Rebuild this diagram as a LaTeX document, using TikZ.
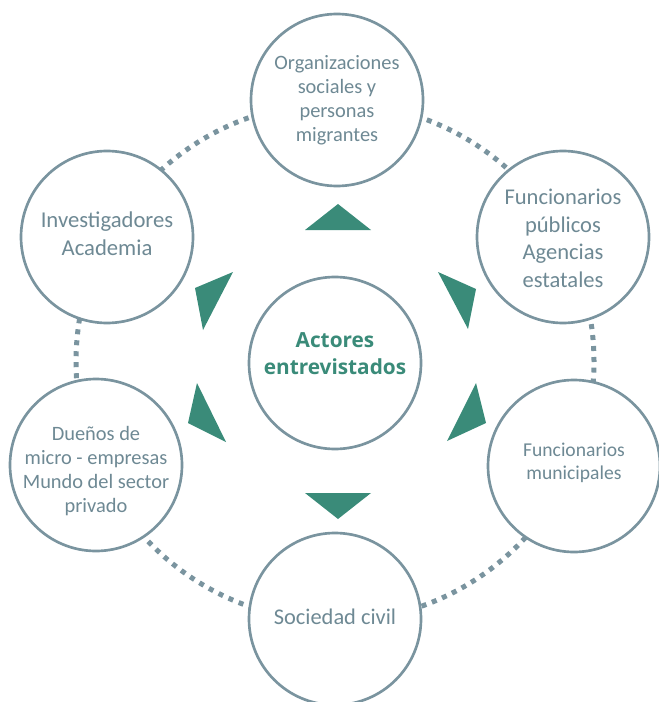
\documentclass[tikz,border=0pt]{standalone}
\usepackage{fontspec}
\setmainfont{Carlito}
\newfontfamily\hubfont{Open Sans}
\definecolor{ringgray}{HTML}{7A949F}
\definecolor{txtgray}{HTML}{6E8994}
\definecolor{actorgreen}{HTML}{3A8B79}

\begin{document}
\begin{tikzpicture}[x=0.75pt,y=-0.75pt,
  actor/.style={circle,draw=ringgray,line width=2pt,fill=white,minimum size=129pt,
    inner sep=0pt},
  txt/.style={align=center,text=txtgray,inner sep=0pt},
  ring/.style={draw=ringgray,line width=3.75pt,dash pattern=on 3.75pt off 4.5pt},
  pointer/.style={fill=actorgreen}]
\useasboundingbox (0,0) rectangle (659,702);

% dotted ring behind the circles
\draw[ring] (335,362) circle (194.25pt);

\node[actor,label={[txt,font=\fontsize{15.3}{18}\selectfont]center:
  Organizaciones\\sociales y\\personas\\migrantes}] (org) at (337,100) {};
\node[actor,label={[txt,font=\fontsize{16.9}{20.8}\selectfont,yshift=-1pt]center:
  Funcionarios\\públicos\\Agencias\\estatales}] (pub) at (563,237) {};
\node[actor,label={[txt,font=\fontsize{14.7}{17}\selectfont,yshift=2.25pt]center:
  Funcionarios\\municipales}] (mun) at (574,466) {};
\node[actor,label={[txt,font=\fontsize{16.8}{18}\selectfont,yshift=1.5pt]center:
  Sociedad civil}] (soc) at (335,619) {};
\node[actor,label={[txt,font=\fontsize{15.3}{18}\selectfont,yshift=-4.5pt]center:
  Dueños de\\micro - empresas\\Mundo del sector\\privado}] (emp) at (96,465) {};
\node[actor,label={[txt,font=\fontsize{17}{21}\selectfont,yshift=2.25pt]center:
  Investigadores\\Academia}] (inv) at (107,237) {};

\node[actor,label={[txt,text=actorgreen,font=\hubfont\fontsize{15.6}{20.5}\selectfont\bfseries,yshift=7pt]center:
  Actores\\entrevistados}] (act) at (335,363) {};

% triangles
\fill[pointer] (305,230) -- (371,230) -- (338,204) -- cycle;
\fill[pointer] (438,272) -- (476,289) -- (468,329) -- cycle;
\fill[pointer] (476,383) -- (486,423) -- (447,441) -- cycle;
\fill[pointer] (305,493) -- (371,493) -- (338,519) -- cycle;
\fill[pointer] (197,383) -- (188,423) -- (226,442) -- cycle;
\fill[pointer] (195,288) -- (233,272) -- (203,330) -- cycle;

\end{tikzpicture}
\end{document}
